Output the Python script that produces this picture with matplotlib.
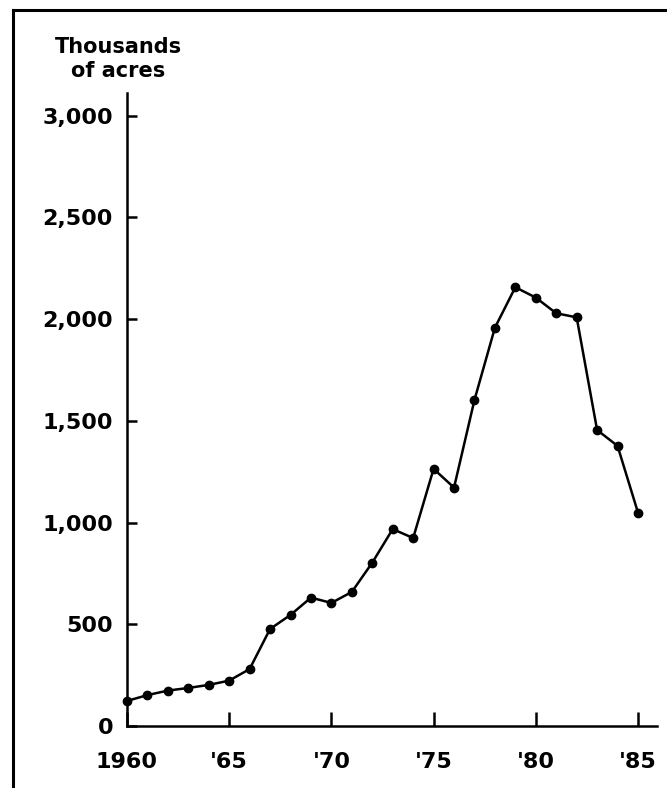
import matplotlib
matplotlib.use("Agg")
import matplotlib.pyplot as plt
from matplotlib.lines import Line2D

# years and area (thousands of acres)
years = [1960, 1961, 1962, 1963, 1964, 1965, 1966, 1967, 1968, 1969,
         1970, 1971, 1972, 1973, 1974, 1975, 1976, 1977, 1978, 1979,
         1980, 1981, 1982, 1983, 1984, 1985]
acres = [123, 152, 174, 187, 202, 223, 280, 477, 546, 631,
         605, 659, 803, 968, 924, 1264, 1172, 1603, 1958, 2157,
         2106, 2029, 2009, 1455, 1377, 1049]

x_ticks = [1960, 1965, 1970, 1975, 1980, 1985]
x_labels = ["1960", "'65", "'70", "'75", "'80", "'85"]
y_ticks = [0, 500, 1000, 1500, 2000, 2500, 3000]
y_labels = ["0", "500", "1,000", "1,500", "2,000", "2,500", "3,000"]

plt.rcParams["font.family"] = "DejaVu Sans"
plt.rcParams["font.weight"] = "bold"

fig = plt.figure(figsize=(6.67, 7.88), dpi=100)
ax = fig.add_axes([0.1904, 0.0787, 0.7946, 0.8033])

ax.plot(years, acres, color="black", linewidth=1.8, marker="o",
        markersize=6, markerfacecolor="black", markeredgecolor="black",
        clip_on=False)

ax.set_xlim(1960, 1985.93)
ax.set_ylim(0, 3112)
ax.set_xticks(x_ticks)
ax.set_xticklabels(x_labels)
ax.set_yticks(y_ticks)
ax.set_yticklabels(y_labels)

for s in ["top", "right"]:
    ax.spines[s].set_visible(False)
for s in ["left", "bottom"]:
    ax.spines[s].set_linewidth(1.8)

ax.tick_params(axis="x", direction="in", length=10, width=1.8, pad=19,
               labelsize=16)
ax.tick_params(axis="y", direction="in", length=7, width=1.8, pad=10,
               labelsize=16)
ax.patch.set_alpha(0)

# axis title above the y axis
fig.text(118 / 667, 1 - 59 / 788, "Thousands\nof acres", ha="center",
         va="center", fontsize=15, fontweight="bold", linespacing=1.2)

# frame around the figure (left and top edges)
fig.add_artist(Line2D([13 / 667, 13 / 667], [0, 1 - 10 / 788],
                      color="black", linewidth=2.2))
fig.add_artist(Line2D([13 / 667, 1], [1 - 10 / 788, 1 - 10 / 788],
                      color="black", linewidth=2.2))

fig.savefig("out.png", dpi=100)
